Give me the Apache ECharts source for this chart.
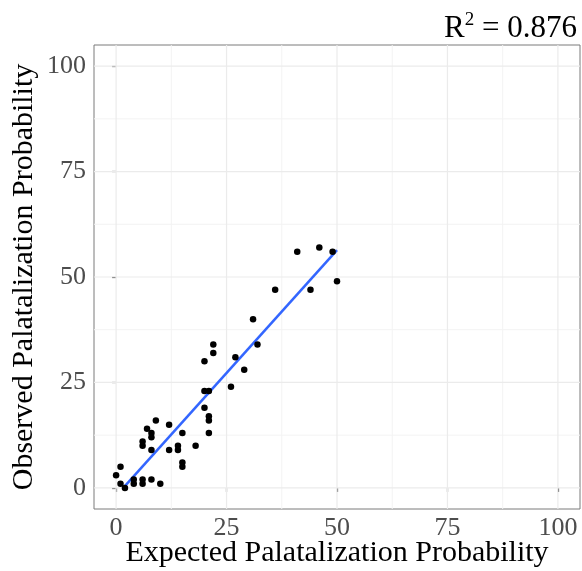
<!DOCTYPE html>
<html>
<head>
<meta charset="utf-8">
<script src="https://cdn.jsdelivr.net/npm/echarts@6/dist/echarts.min.js"></script>
<style>
  html, body { margin: 0; padding: 0; background: #fff; }
  #chart { width: 582px; height: 571px; }
</style>
</head>
<body>
<div id="chart"></div>
<script>
// expected vs observed palatalization probability (%)
const expected = [22, 22, 20, 27, 29, 26, 20, 21, 20, 21, 21, 21, 18, 15, 14, 14, 15, 15, 12, 12,
  9, 7, 8, 8, 6, 6, 8, 1, 0, 1, 2, 4, 4, 6, 6, 8, 10,
  41, 46, 49, 50, 44, 36, 31, 32]
const observed = [34, 32, 30, 31, 28, 24, 23, 23, 19, 17, 16, 13, 10, 13, 10, 9, 6, 5, 15, 9,
  16, 14, 13, 12, 11, 10, 9, 5, 3, 1, 0, 1, 2, 1, 2, 2, 1,
  56, 57, 56, 49, 47, 47, 40, 34]
const tickValues = [0, 25, 50, 75, 100]
const minorValues = [12.5, 37.5, 62.5, 87.5]
const rSquared = '0.876'

const points = expected.map((x, i) => [x, observed[i]])

// least squares fit, drawn over the x range, dropped below y = 0
function fitLine () {
  const n = expected.length
  const mx = expected.reduce((a, b) => a + b, 0) / n
  const my = observed.reduce((a, b) => a + b, 0) / n
  let sxy = 0
  let sxx = 0
  expected.forEach((x, i) => {
    sxy += (x - mx) * (observed[i] - my)
    sxx += (x - mx) * (x - mx)
  })
  const b = sxy / sxx
  const a = my - b * mx
  const x0 = Math.max(Math.min(...expected), -a / b)
  const x1 = Math.max(...expected)
  return [[x0, a + b * x0], [x1, a + b * x1]]
}

const font = 'Liberation Serif'

// panel grid lines as plain line series across the full panel
function gridSeries (v, major) {
  const style = { color: major ? '#ebebeb' : '#f3f3f3', width: major ? 1.2 : 1 }
  return [
    { type: 'line', data: [[v, -5], [v, 105]], showSymbol: false, silent: true, lineStyle: style, z: 1 },
    { type: 'line', data: [[-5, v], [105, v]], showSymbol: false, silent: true, lineStyle: style, z: 1 }
  ]
}
const grids = []
minorValues.forEach(v => grids.push(...gridSeries(v, false)))
tickValues.forEach(v => grids.push(...gridSeries(v, true)))

function axis (name, gap, margin) {
  return {
    type: 'value',
    min: -5,
    max: 105,
    name: name,
    nameLocation: 'middle',
    nameGap: gap,
    nameMoveOverlap: false,
    nameTextStyle: { fontFamily: font, fontSize: 30, color: '#000' },
    axisLine: { show: false },
    splitLine: { show: false },
    axisTick: {
      customValues: tickValues,
      length: 4,
      lineStyle: { color: '#333', width: 1.2 }
    },
    axisLabel: {
      customValues: tickValues,
      fontFamily: font,
      fontSize: 26,
      color: '#4d4d4d',
      margin: margin
    }
  }
}

const chart = echarts.init(document.getElementById('chart'))
chart.setOption({
  animation: false,
  title: {
    text: '{a|R}{s|2}{a| = ' + rSquared + '}',
    right: 0,
    top: 6,
    textStyle: {
      rich: {
        a: { fontFamily: font, fontSize: 31, fontWeight: 'normal', color: '#000', lineHeight: 36 },
        s: { fontFamily: font, fontSize: 19, fontWeight: 'normal', color: '#000', lineHeight: 36, verticalAlign: 'top' }
      }
    }
  },
  grid: {
    left: 94,
    right: 2,
    top: 45,
    bottom: 62,
    outerBoundsMode: 'none',
    show: true,
    borderColor: '#7a7a7a',
    borderWidth: 1
  },
  xAxis: axis('Expected Palatalization Probability', 29, 6),
  yAxis: axis('Observed Palatalization Probability', 55, 8),
  series: grids.concat([
    {
      type: 'line',
      data: fitLine(),
      showSymbol: false,
      silent: true,
      lineStyle: { color: '#3366ff', width: 2.5 },
      z: 3
    },
    {
      type: 'scatter',
      data: points,
      symbolSize: 6.5,
      silent: true,
      itemStyle: { color: '#000', opacity: 1 },
      z: 4
    }
  ])
})
</script>
</body>
</html>
